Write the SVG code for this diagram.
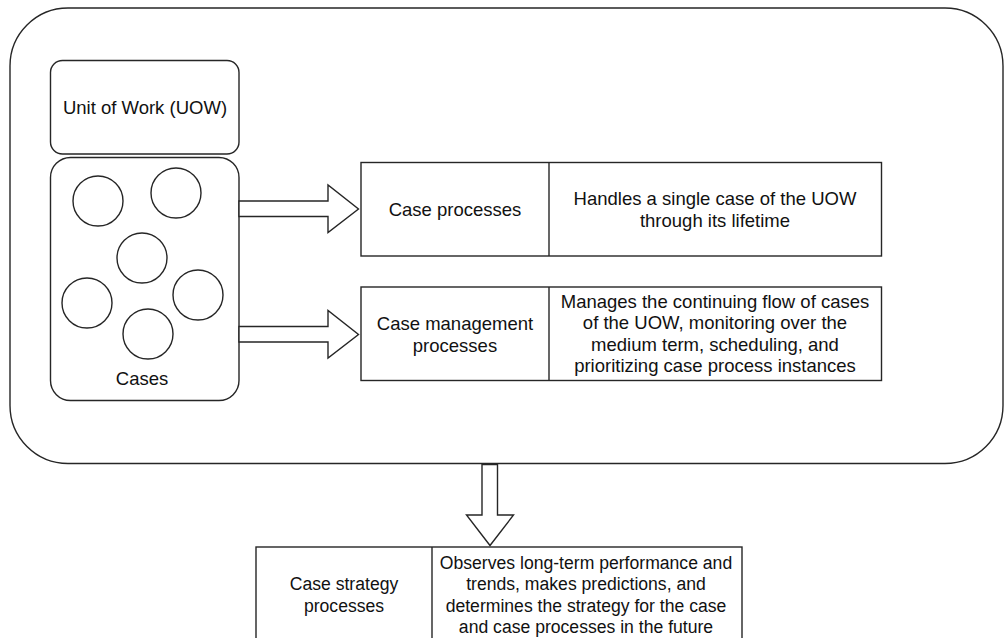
<svg xmlns="http://www.w3.org/2000/svg" width="1004" height="638" viewBox="0 0 1004 638">
  <style>
    .shape { fill: #ffffff; stroke: #262626; stroke-width: 1.4; }
    .line { fill: none; stroke: #262626; stroke-width: 1.4; }
    .label { font-family: "Liberation Sans", Arial, sans-serif; font-size: 18.5px; fill: #111111; text-anchor: middle; }
    .small { font-size: 17.6px; }
  </style>
  <rect x="0" y="0" width="1004" height="638" fill="#ffffff"/>

  <!-- Enclosing container for the unit of work -->
  <g id="container">
    <rect class="shape" x="10" y="8" width="993" height="455.5" rx="58" ry="58"/>
  </g>

  <g id="uow">
    <rect class="shape" x="50.5" y="60.5" width="188.5" height="93.5" rx="12" ry="12"/>
    <text class="label" x="145" y="114">Unit of Work (UOW)</text>
  </g>

  <g id="cases">
    <rect class="shape" x="50.5" y="157.5" width="188.5" height="243" rx="20" ry="20"/>
    <circle class="shape" cx="98" cy="201" r="25"/>
    <circle class="shape" cx="176" cy="193" r="25"/>
    <circle class="shape" cx="142" cy="258" r="25"/>
    <circle class="shape" cx="87" cy="303" r="25"/>
    <circle class="shape" cx="198" cy="295" r="25"/>
    <circle class="shape" cx="148" cy="334" r="25"/>
    <text class="label" x="142" y="385">Cases</text>
  </g>

  <g id="case-processes">
    <rect class="shape" x="361" y="162.5" width="520.5" height="93.5"/>
    <line class="line" x1="549" y1="162.5" x2="549" y2="256"/>
    <text class="label" x="455" y="215.5">Case processes</text>
    <text class="label" x="715" y="204.5">Handles a single case of the UOW</text>
    <text class="label" x="715" y="226.5">through its lifetime</text>
  </g>

  <g id="case-management">
    <rect class="shape" x="361" y="287" width="520.5" height="93.5"/>
    <line class="line" x1="549" y1="287" x2="549" y2="380.5"/>
    <text class="label" x="455" y="330">Case management</text>
    <text class="label" x="455" y="351.5">processes</text>
    <text class="label" x="715" y="307.5">Manages the continuing flow of cases</text>
    <text class="label" x="715" y="329">of the UOW, monitoring over the</text>
    <text class="label" x="715" y="350.5">medium term, scheduling, and</text>
    <text class="label" x="715" y="372">prioritizing case process instances</text>
  </g>

  <g id="case-strategy">
    <rect class="shape" x="256" y="547" width="486" height="94"/>
    <line class="line" x1="432" y1="547" x2="432" y2="641"/>
    <text class="label small" x="344" y="590">Case strategy</text>
    <text class="label small" x="344" y="611.5">processes</text>
    <text class="label small" x="586" y="568.5">Observes long-term performance and</text>
    <text class="label small" x="586" y="590">trends, makes predictions, and</text>
    <text class="label small" x="586" y="611.5">determines the strategy for the case</text>
    <text class="label small" x="586" y="633">and case processes in the future</text>
  </g>

  <!-- Block arrows -->
  <g id="connectors">
    <path class="shape" d="M239 201 L328 201 L328 185 L358.5 209 L328 232.5 L328 216.5 L239 216.5 Z"/>
    <path class="shape" d="M239 326.5 L328 326.5 L328 310.5 L358.5 334.5 L328 358 L328 342 L239 342 Z"/>
    <path class="shape" d="M482 464.5 L482 515 L466.5 515 L490 545.5 L513.5 515 L497.5 515 L497.5 464.5 Z"/>
  </g>
</svg>
